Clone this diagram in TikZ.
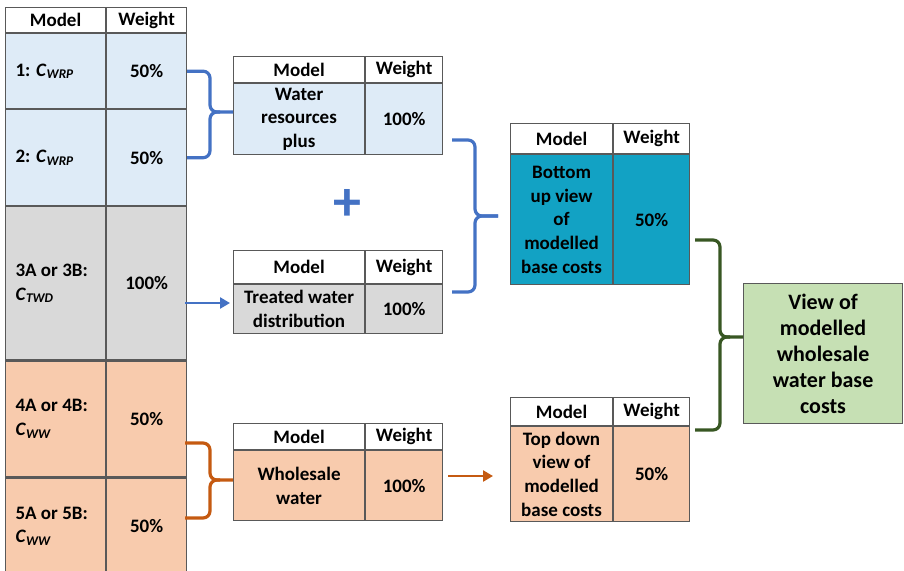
\documentclass[tikz,border=0pt]{standalone}
\usepackage{fontspec}
\setmainfont{Carlito}
\usetikzlibrary{arrows.meta,calc}

\definecolor{rulegrey}{HTML}{595959}
\definecolor{paleblue}{HTML}{DEEBF7}
\definecolor{palegrey}{HTML}{D9D9D9}
\definecolor{paleorange}{HTML}{F8CBAD}
\definecolor{teal}{RGB}{18,162,196}
\definecolor{palegreen}{HTML}{C6E0B4}
\definecolor{braceblue}{HTML}{4472C4}
\definecolor{braceorange}{HTML}{C55A11}
\definecolor{bracegreen}{HTML}{385723}

\newcommand\cellfont{\fontsize{19}{23.7}\selectfont\bfseries}
\newcommand\cmod[1]{\textit{C}\textsubscript{\textit{#1}}}

\tikzset{
  cell/.style={draw=rulegrey,line width=1.1pt,inner sep=0pt,align=center,
    font=\cellfont,anchor=north west},
  lab/.style={cell,text width=80pt,align=flush left},
  brace/.style={line width=3.2pt,rounded corners=7pt},
  link/.style={line width=2.8pt,-{Triangle[length=10pt,width=11pt]}}
}

\begin{document}
\begin{tikzpicture}[x=1pt,y=-1pt]
\useasboundingbox (0,0) rectangle (904,570);
% left table of models
\node[cell,minimum width=100pt,minimum height=25pt] (lh1) at (5,7) {Model};
\node[cell,minimum width=80pt,minimum height=25pt] (lh2) at (lh1.north east) {Weight};
\node[lab,minimum width=100pt,minimum height=75pt,fill=paleblue] (r1a) at (lh1.south west) {1: \cmod{WRP}};
\node[cell,minimum width=80pt,minimum height=75pt,fill=paleblue] (r1b) at (r1a.north east) {50\%};
\node[lab,minimum width=100pt,minimum height=96pt,fill=paleblue] (r2a) at (r1a.south west) {2: \cmod{WRP}};
\node[cell,minimum width=80pt,minimum height=96pt,fill=paleblue] (r2b) at (r2a.north east) {50\%};
\node[lab,minimum width=100pt,minimum height=153pt,fill=palegrey] (r3a) at (r2a.south west) {3A or 3B:\\\cmod{TWD}};
\node[cell,minimum width=80pt,minimum height=153pt,fill=palegrey] (r3b) at (r3a.north east) {100\%};
\node[lab,minimum width=100pt,minimum height=116pt,fill=paleorange] (r4a) at (r3a.south west) {4A or 4B:\\\cmod{WW}};
\node[cell,minimum width=80pt,minimum height=116pt,fill=paleorange] (r4b) at (r4a.north east) {50\%};
\node[lab,minimum width=100pt,minimum height=96pt,fill=paleorange] (r5a) at (r4a.south west) {5A or 5B:\\\cmod{WW}};
\node[cell,minimum width=80pt,minimum height=96pt,fill=paleorange] (r5b) at (r5a.north east) {50\%};

% water resources plus
\node[cell,minimum width=131pt,minimum height=26pt] (wh1) at (233,56) {Model};
\node[cell,minimum width=77pt,minimum height=26pt] (wh2) at (wh1.north east) {Weight};
\node[cell,minimum width=131pt,minimum height=71pt,fill=paleblue] (wb1) at (wh1.south west) {Water\\resources\\plus};
\node[cell,minimum width=77pt,minimum height=71pt,fill=paleblue] (wb2) at (wb1.north east) {100\%};
\node[text=braceblue,font=\fontsize{56}{56}\selectfont\bfseries] (plus) at (347,205) {+};
% treated water distribution
\node[cell,minimum width=131pt,minimum height=33pt] (th1) at (233,250) {Model};
\node[cell,minimum width=77pt,minimum height=33pt] (th2) at (th1.north east) {Weight};
\node[cell,minimum width=131pt,minimum height=49pt,fill=palegrey] (tb1) at (th1.south west) {Treated water\\distribution};
\node[cell,minimum width=77pt,minimum height=49pt,fill=palegrey] (tb2) at (tb1.north east) {100\%};
% wholesale water
\node[cell,minimum width=131pt,minimum height=26pt] (sh1) at (233,423) {Model};
\node[cell,minimum width=77pt,minimum height=26pt] (sh2) at (sh1.north east) {Weight};
\node[cell,minimum width=131pt,minimum height=70pt,fill=paleorange] (sb1) at (sh1.south west) {Wholesale\\water};
\node[cell,minimum width=77pt,minimum height=70pt,fill=paleorange] (sb2) at (sb1.north east) {100\%};

% bottom up view
\node[cell,minimum width=102pt,minimum height=30pt] (bh1) at (510,123) {Model};
\node[cell,minimum width=76pt,minimum height=30pt] (bh2) at (bh1.north east) {Weight};
\node[cell,minimum width=102pt,minimum height=130pt,fill=teal] (bb1) at (bh1.south west) {Bottom\\up view\\of\\modelled\\base costs};
\node[cell,minimum width=76pt,minimum height=130pt,fill=teal] (bb2) at (bb1.north east) {50\%};
% top down view
\node[cell,minimum width=102pt,minimum height=28pt] (dh1) at (510,397) {Model};
\node[cell,minimum width=76pt,minimum height=28pt] (dh2) at (dh1.north east) {Weight};
\node[cell,minimum width=102pt,minimum height=95pt,fill=paleorange] (db1) at (dh1.south west) {Top down\\view of\\modelled\\base costs};
\node[cell,minimum width=76pt,minimum height=95pt,fill=paleorange] (db2) at (db1.north east) {50\%};

% overall view
\node[cell,minimum width=159pt,minimum height=140pt,fill=palegreen,
  font=\fontsize{22}{26}\selectfont\bfseries] (view) at (743,283) {View of\\modelled\\wholesale\\water base\\costs};

% brace: water resources rows
\coordinate (k1) at (210,112);
\draw[brace,braceblue] (r1b.east) -| (k1) -- (k1 -| wb1.west);
\draw[brace,braceblue] (r2b.east) -| (k1) -- ++(10,0);
% brace: water resources plus and treated water
\coordinate (u1) at (452,140);
\coordinate (u2) at (452,292);
\coordinate (k2) at (475,216);
\coordinate (t2) at (498,216);
\draw[brace,braceblue] (u1) -| (k2) -- (t2);
\draw[brace,braceblue] (u2) -| (k2) -- (t2);
% brace: wholesale rows
\coordinate (v1) at (185,443);
\coordinate (v2) at (185,518);
\coordinate (k3) at (210,480);
\draw[brace,braceorange] (v1) -| (k3) -- (k3 -| sb1.west);
\draw[brace,braceorange] (v2) -| (k3) -- ++(10,0);
% brace: bottom up and top down
\coordinate (g1) at (695,240);
\coordinate (g2) at (695,430);
\coordinate (k4) at (720,337);
\draw[brace,bracegreen] (g1) -| (k4) -- (k4 -| view.west);
\draw[brace,bracegreen] (g2) -| (k4) -- ++(10,0);

% arrows
\coordinate (a1) at (185,303);
\draw[link,braceblue,shorten >=3pt] (a1) -- (a1 -| tb1.west);
\coordinate (a2) at (448,476);
\draw[link,braceorange,shorten >=17pt] (a2) -- (a2 -| db1.west);
\end{tikzpicture}
\end{document}
